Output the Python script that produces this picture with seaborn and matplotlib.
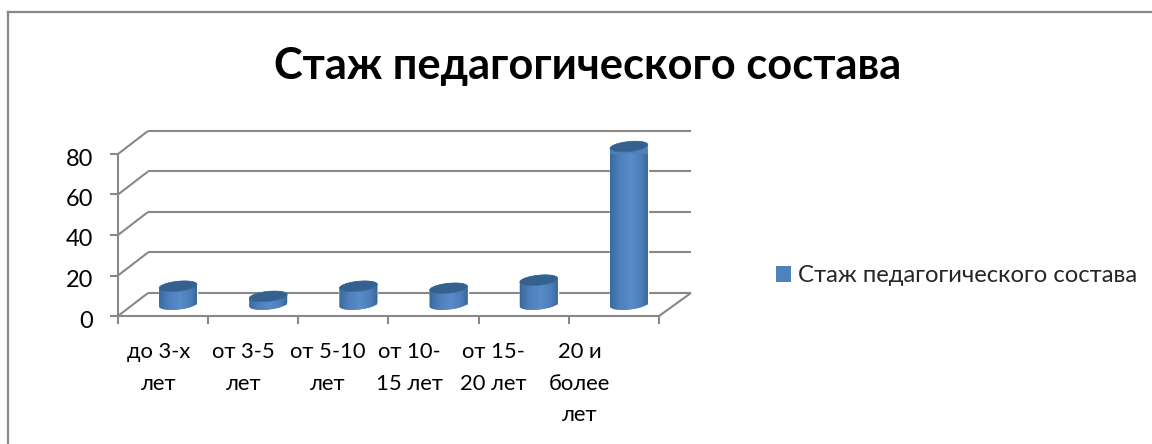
import numpy as np
import pandas as pd
import matplotlib
matplotlib.use("Agg")
import matplotlib.pyplot as plt
import seaborn as sns
from matplotlib.colors import LinearSegmentedColormap
from matplotlib.lines import Line2D
from matplotlib.patches import Patch, Polygon
from matplotlib.transforms import Affine2D, IdentityTransform

TITLE = "Стаж педагогического состава"
categories = ["до 3-х\nлет", "от 3-5\nлет", "от 5-10\nлет", "от 10-\n15 лет", "от 15-\n20 лет", "20 и\nболее\nлет"]
values = [9, 4, 9, 8, 12, 78]
y_ticks = [0, 20, 40, 60, 80]

W, H = 1152, 444
GREY = "#888888"
BLUE = "#4f81bd"
FONT = ["Lato", "Open Sans", "DejaVu Sans"]

sns.set_theme(style="white")
plt.rcParams["font.family"] = FONT

fig = plt.figure(figsize=(W / 100, H / 100), dpi=100, facecolor="white")
# front plane of the 3D box: x 118..659, y 154..316 (pixels from top)
ax = fig.add_axes([118 / W, 1 - 316 / H, (659 - 118) / W, (316 - 154) / H])
df = pd.DataFrame({"cat": categories, "value": values})
sns.barplot(data=df, x="cat", y="value", color=BLUE, width=38 / 90.2, ax=ax, zorder=3, saturation=1)
ax.set_xlim(-0.5, len(categories) - 0.5)
ax.set_ylim(0, 80)
ax.set_autoscale_on(False)
ax.set_xlabel("")
ax.set_ylabel("")
ax.patch.set_visible(False)

for s in ("top", "right"):
    ax.spines[s].set_visible(False)
for s in ("left", "bottom"):
    ax.spines[s].set_color(GREY)
    ax.spines[s].set_linewidth(1.5)

ax.set_yticks(y_ticks)
ax.tick_params(axis="y", left=True, length=6, width=1.5, color=GREY, labelsize=17, pad=12, labelcolor="black")
for lab in ax.get_yticklabels():
    lab.set_transform(lab.get_transform() + Affine2D().translate(0, -3))
ax.set_xticks(np.arange(len(categories) + 1) - 0.5, minor=True)
ax.tick_params(axis="x", which="minor", bottom=True, length=5.5, width=1.5, color=GREY)
ax.set_xticks(np.arange(len(categories)))
ax.set_xticklabels(categories, linespacing=1.72)
ax.tick_params(axis="x", which="major", bottom=False, length=0, labelsize=15.8, pad=19, labelcolor="black")
label_shift = [-4, -10, -16, -24, -30, -34]
for lab, dx in zip(ax.get_xticklabels(), label_shift):
    lab.set_transform(lab.get_transform() + Affine2D().translate(dx, 0))

# wall/floor lines, back plane is offset from the front plane
DX, DY = 30, 23
fig.canvas.draw()
to_px = ax.transData.transform
line_kw = dict(color=GREY, lw=1.5, transform=IdentityTransform(), clip_on=False, zorder=1, solid_capstyle="butt")
x0_px = to_px((-0.5, 0))[0]
x1_px = to_px((len(categories) - 0.5, 0))[0]
for v in y_ticks:
    yp = to_px((0, v))[1]
    ax.add_line(Line2D([x0_px, x0_px + DX], [yp, yp + DY], **line_kw))
    ax.add_line(Line2D([x0_px + DX, x1_px + DX + 2], [yp + DY, yp + DY], **line_kw))
yp0 = to_px((0, 0))[1]
ax.add_line(Line2D([x1_px, x1_px + DX + 2], [yp0, yp0 + DY], **line_kw))

# cylinders built from the seaborn bars, placed at mid depth
cmap = LinearSegmentedColormap.from_list(
    "cyl", [(0, "#33608f"), (0.1, "#3f6fa6"), (0.3, "#4f81bd"), (0.55, "#5a8bca"), (0.8, "#4b7db8"), (1, "#33608f")]
)
B = 5.0
PHI = np.deg2rad(6)
cos_p, sin_p = np.cos(PHI), np.sin(PHI)


def ell(cx, cy, a, t):
    return np.column_stack([
        cx + a * np.cos(t) * cos_p - B * np.sin(t) * sin_p,
        cy + a * np.cos(t) * sin_p + B * np.sin(t) * cos_p,
    ])


shift = Affine2D().translate(DX / 2, DY / 2)
for bar in list(ax.patches):
    (lx, by) = to_px((bar.get_x(), 0))
    (rx, ty) = to_px((bar.get_x() + bar.get_width(), bar.get_height()))
    a = (rx - lx) / 2
    cx = (lx + rx) / 2 + DX / 2
    by += DY / 2
    ty += DY / 2
    bar.set_transform(bar.get_data_transform() + shift)
    bar.set_clip_on(False)
    th_r = np.arctan(-(B / a) * np.tan(PHI))
    low = ell(cx, by, a, np.linspace(th_r + np.pi, th_r + 2 * np.pi, 40))
    up = ell(cx, ty, a, np.linspace(th_r, th_r + np.pi, 40))
    body = Polygon(np.vstack([low, up]), closed=True, transform=IdentityTransform(),
                   facecolor=BLUE, edgecolor="none", zorder=4, clip_on=False)
    ax.add_patch(body)
    grad = np.linspace(0, 1, 256).reshape(1, -1)
    im = ax.imshow(grad, cmap=cmap, aspect="auto", extent=(cx - a - 2, cx + a + 2, by - 10, ty + 10),
                   transform=IdentityTransform(), zorder=5, interpolation="bilinear")
    im.set_clip_path(body)
    cap = Polygon(ell(cx, ty, a, np.linspace(0, 2 * np.pi, 80)), closed=True, transform=IdentityTransform(),
                  facecolor="#34618f", edgecolor="#3c6b9f", lw=0.5, zorder=6, clip_on=False)
    ax.add_patch(cap)

ax.set_xlim(-0.5, len(categories) - 0.5)
ax.set_ylim(0, 80)
ax.set_aspect("auto")

fig.suptitle(TITLE, x=588 / W, y=1 - 66 / H, va="center", ha="center", fontsize=31.2, fontweight="bold", color="black")

handle = Patch(facecolor=BLUE, edgecolor="none")
fig.legend([handle], [TITLE], loc="center left", bbox_to_anchor=(776 / W, 1 - 276 / H), frameon=False,
           fontsize=17.2, handlelength=0.62, handleheight=0.62, handletextpad=0.3, borderpad=0, borderaxespad=0)

# outer chart border (only left and top visible in the crop)
border_kw = dict(color=GREY, lw=1.6, transform=fig.transFigure, solid_capstyle="projecting")
fig.add_artist(Line2D([7.5 / W, 7.5 / W], [0, 1 - 12 / H], **border_kw))
fig.add_artist(Line2D([7.5 / W, 1], [1 - 12 / H, 1 - 12 / H], **border_kw))

fig.savefig("out.png", dpi=100, facecolor="white")
